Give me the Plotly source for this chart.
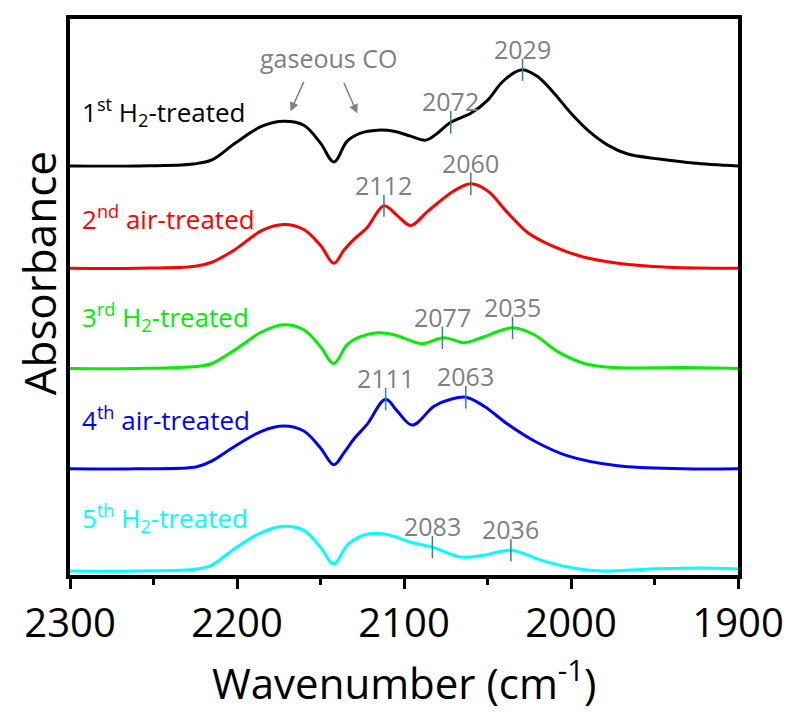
import plotly.graph_objects as go

# ---- data (wavenumber in cm-1, absorbance stacked with offsets) ----
wn_1 = [2300, 2260, 2226, 2215, 2201, 2185, 2172, 2160, 2150, 2142, 2134, 2126, 2116, 2106, 2096, 2087,
        2080, 2072, 2060, 2050, 2042, 2034, 2029, 2020, 2010, 2000, 1990, 1978, 1966, 1947, 1927, 1900]
abs_1 = [4.12, 4.12, 4.14, 4.18, 4.35, 4.52, 4.57, 4.53, 4.35, 4.16, 4.37, 4.45, 4.48, 4.47, 4.42, 4.38,
         4.45, 4.56, 4.65, 4.78, 4.95, 5.06, 5.09, 5.02, 4.85, 4.65, 4.48, 4.33, 4.24, 4.19, 4.15, 4.12]

wn_2 = [2300, 2260, 2225, 2215, 2201, 2185, 2172, 2160, 2150, 2142, 2136, 2130, 2122, 2112, 2104, 2096,
        2086, 2070, 2060, 2050, 2038, 2026, 2012, 1992, 1972, 1942, 1900]
abs_2 = [3.09, 3.09, 3.11, 3.15, 3.28, 3.47, 3.53, 3.48, 3.32, 3.14, 3.27, 3.38, 3.50, 3.72, 3.62, 3.52,
         3.66, 3.87, 3.94, 3.87, 3.65, 3.45, 3.32, 3.20, 3.14, 3.10, 3.09]

wn_3 = [2300, 2260, 2224, 2215, 2201, 2185, 2172, 2160, 2150, 2142, 2134, 2126, 2116, 2106, 2096, 2089,
        2076, 2064, 2052, 2035, 2022, 2008, 1992, 1982, 1966, 1933, 1900]
abs_3 = [2.08, 2.08, 2.10, 2.13, 2.27, 2.45, 2.52, 2.47, 2.30, 2.13, 2.32, 2.40, 2.44, 2.42, 2.36, 2.33,
         2.39, 2.34, 2.40, 2.49, 2.42, 2.25, 2.13, 2.10, 2.085, 2.09, 2.08]

wn_4 = [2300, 2260, 2224, 2215, 2201, 2185, 2172, 2160, 2150, 2142, 2136, 2130, 2122, 2111, 2104, 2095,
        2082, 2072, 2063, 2052, 2038, 2022, 2002, 1972, 1933, 1900]
abs_4 = [1.07, 1.07, 1.09, 1.15, 1.30, 1.45, 1.50, 1.45, 1.28, 1.11, 1.23, 1.37, 1.52, 1.77, 1.65, 1.51,
         1.70, 1.77, 1.79, 1.70, 1.52, 1.35, 1.20, 1.10, 1.07, 1.07]

wn_5 = [2300, 2260, 2224, 2215, 2201, 2185, 2172, 2160, 2150, 2142, 2134, 2126, 2116, 2106, 2096, 2083,
        2066, 2052, 2036, 2018, 2002, 1982, 1953, 1923, 1900]
abs_5 = [0.04, 0.04, 0.06, 0.10, 0.27, 0.43, 0.49, 0.45, 0.28, 0.11, 0.30, 0.39, 0.42, 0.39, 0.33, 0.28,
         0.18, 0.20, 0.25, 0.15, 0.08, 0.04, 0.06, 0.07, 0.06]

series_names = ["1<sup>st</sup> H<sub>2</sub>-treated", "2<sup>nd</sup> air-treated",
                "3<sup>rd</sup> H<sub>2</sub>-treated", "4<sup>th</sup> air-treated",
                "5<sup>th</sup> H<sub>2</sub>-treated"]
series_colors = ["#000000", "#ff0000", "#00ee00", "#0000ff", "#00ffff"]
series_x = [wn_1, wn_2, wn_3, wn_4, wn_5]
series_y = [abs_1, abs_2, abs_3, abs_4, abs_5]
label_y = [4.66, 3.60, 2.60, 1.57, 0.57]  # absorbance level of the series labels

# peak markers
peak_wn = [2072, 2029, 2112, 2060, 2077, 2035, 2111, 2063, 2083, 2036]
peak_abs = [4.56, 5.09, 3.72, 3.94, 2.39, 2.49, 1.77, 1.79, 0.28, 0.25]
peak_text = ["2072", "2029", "2112", "2060", "2077", "2035", "2111", "2063", "2083", "2036"]

FONT = "'Open Sans', 'Noto Sans', sans-serif"
GREY = "#808080"

fig = go.Figure()
for xs, ys, c in zip(series_x, series_y, series_colors):
    fig.add_trace(go.Scatter(x=xs, y=ys, mode="lines",
                             line=dict(color=c, width=3, shape="spline", smoothing=1.0),
                             showlegend=False, hoverinfo="skip"))

fig.add_trace(go.Scatter(x=peak_wn, y=peak_abs, mode="markers",
                         marker=dict(symbol="line-ns", size=16,
                                     line=dict(color="#2a8a8a", width=1.5)),
                         showlegend=False, hoverinfo="skip"))

annotations = []
for name, c, ly in zip(series_names, series_colors, label_y):
    annotations.append(dict(x=0.015, xref="paper", y=ly, yref="y", text=name, showarrow=False,
                            xanchor="left", yanchor="middle",
                            font=dict(family=FONT, size=26, color=c)))
for px, py, t in zip(peak_wn, peak_abs, peak_text):
    annotations.append(dict(x=px, y=py, text=t, showarrow=False, xanchor="center",
                            yanchor="middle", yshift=21,
                            font=dict(family=FONT, size=25, color=GREY)))
annotations.append(dict(x=2145, y=5.21, text="gaseous CO", showarrow=False,
                        font=dict(family=FONT, size=25, color=GREY)))
annotations.append(dict(x=2168, y=4.67, ax=14, ay=-31, text="", showarrow=True,
                        arrowhead=2, arrowsize=1.2, arrowwidth=1.5, arrowcolor=GREY))
annotations.append(dict(x=2128, y=4.65, ax=-14, ay=-32, text="", showarrow=True,
                        arrowhead=2, arrowsize=1.2, arrowwidth=1.5, arrowcolor=GREY))
annotations.append(dict(x=0.5, xref="paper", y=-0.19, yref="paper", text="Wavenumber (cm<sup>-1</sup>)",
                        showarrow=False, xanchor="center", yanchor="middle",
                        font=dict(family=FONT, size=42, color="black")))
annotations.append(dict(x=-0.046, xref="paper", y=0.543, yref="paper", text="Absorbance",
                        textangle=-90, showarrow=False, xanchor="center", yanchor="middle",
                        font=dict(family=FONT, size=44, color="black")))

# page body has an 8px default margin; size the figure so the plot lands where the reference has it
fig.update_layout(
    width=785, height=705,
    margin=dict(l=62, r=55, t=7, b=138),
    paper_bgcolor="white", plot_bgcolor="white",
    annotations=annotations,
    xaxis=dict(range=[2300, 1900], dtick=100, tick0=1900, showgrid=False, zeroline=False,
               showline=True, linecolor="black", linewidth=4, mirror=True,
               ticks="outside", ticklen=10, tickwidth=3, tickcolor="black",
               minor=dict(dtick=50, ticklen=6, tickwidth=3, ticks="outside", tickcolor="black"),
               tickfont=dict(family=FONT, size=40, color="black")),
    yaxis=dict(range=[0, 5.6], showgrid=False, zeroline=False, showticklabels=False,
               showline=True, linecolor="black", linewidth=4, mirror=True, ticks=""),
)

fig.write_html("out.html")
